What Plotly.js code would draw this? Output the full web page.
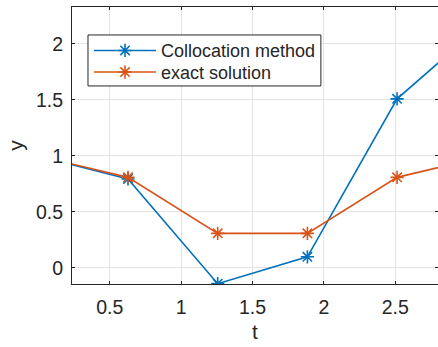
<!DOCTYPE html>
<html>
<head>
<meta charset="utf-8">
<script src="https://cdn.plot.ly/plotly-3.0.1.min.js"></script>
<style>html,body{margin:0;padding:0;background:#fff;}#chart{width:438px;height:347px;}</style>
</head>
<body>
<div id="chart"></div>
<script>
const tValues = [0, 0.6283, 1.2566, 1.8850, 2.5133, 3.1416];
const collocationY = [1.0, 0.795, -0.14, 0.10, 1.51, 2.21];
const exactY = [1.0, 0.809, 0.309, 0.309, 0.809, 1.0];
const seriesNames = ['Collocation method', 'exact solution'];
const xTickVals = [0.5, 1, 1.5, 2, 2.5];
const yTickVals = [0, 0.5, 1, 1.5, 2];

const ink = '#262626';
const font = "'Liberation Sans', Arial, Helvetica, sans-serif";

const traces = [
  {x: tValues, y: collocationY, name: seriesNames[0], type: 'scatter', mode: 'lines+markers',
   legend: 'legend',
   line: {color: '#0072BD', width: 1.6},
   marker: {symbol: 'asterisk-open', size: 11, color: '#0072BD', line: {color: '#0072BD', width: 1.6}}},
  {x: tValues, y: exactY, name: seriesNames[1], type: 'scatter', mode: 'lines+markers',
   legend: 'legend2',
   line: {color: '#D95319', width: 1.6},
   marker: {symbol: 'asterisk-open', size: 11, color: '#D95319', line: {color: '#D95319', width: 1.6}}}
];

const axisCommon = {
  showline: true, linecolor: ink, linewidth: 1, mirror: 'ticks',
  ticks: 'inside', ticklen: 3, tickcolor: ink, tickwidth: 1,
  showgrid: true, gridcolor: '#e3e3e3', gridwidth: 1,
  zeroline: false,
  tickfont: {family: font, size: 19.5, color: ink}
};

const legendCommon = {
  xanchor: 'left', yanchor: 'middle',
  bgcolor: 'rgba(0,0,0,0)', borderwidth: 0,
  font: {family: font, size: 18, color: ink},
  itemwidth: 62
};

const layout = {
  width: 438, height: 347,
  margin: {l: 72, r: 0, t: 7, b: 63},
  paper_bgcolor: '#ffffff', plot_bgcolor: '#ffffff',
  showlegend: true,
  legend: Object.assign({}, legendCommon, {x: 0.0465, y: 0.842}),
  legend2: Object.assign({}, legendCommon, {x: 0.0465, y: 0.764}),
  shapes: [{
    type: 'rect', xref: 'paper', yref: 'paper', layer: 'above',
    x0: 0.0437, x1: 0.680, y0: 0.715, y1: 0.899,
    fillcolor: '#ffffff', line: {color: ink, width: 1}
  }],
  xaxis: Object.assign({}, axisCommon, {
    range: [0.236, 2.80], tickvals: xTickVals, ticklabelstandoff: 6,
    title: {text: 't', font: {family: font, size: 21, color: ink}, standoff: 6}
  }),
  yaxis: Object.assign({}, axisCommon, {
    range: [-0.143, 2.33], tickvals: yTickVals, ticklabelstandoff: 4,
    title: {text: 'y', font: {family: font, size: 21, color: ink}, standoff: 6}
  })
};

Plotly.newPlot('chart', traces, layout, {displayModeBar: false, staticPlot: true});
</script>
</body>
</html>
